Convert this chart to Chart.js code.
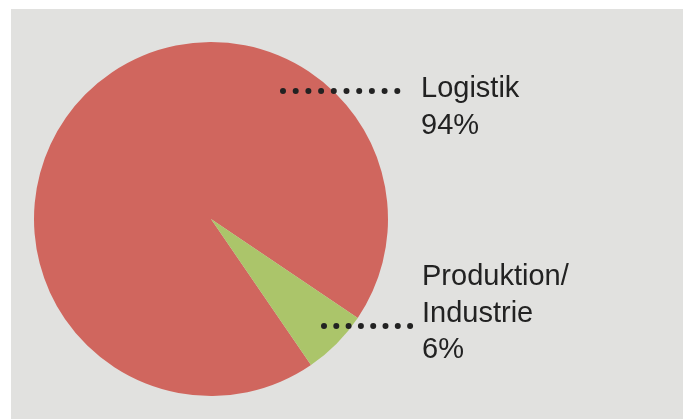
<!DOCTYPE html>
<html>
<head>
<meta charset="utf-8">
<script src="https://cdn.jsdelivr.net/npm/chart.js@4"></script>
<style>
  html, body { margin: 0; padding: 0; background: #ffffff; }
  #wrap { width: 683px; height: 419px; position: relative; }
</style>
</head>
<body>
<div id="wrap"><canvas id="myChart" width="683" height="419"></canvas></div>
<script>
// datos del grafico
const categorias = ["Logistik", "Produktion/Industrie"];
const valores = [94, 6];
const etiquetas = [["Logistik", "94%"], ["Produktion/", "Industrie", "6%"]];
const colores = ["#d0665e", "#abc56a"];

(() => {
    const ctx = document.getElementById('myChart').getContext('2d');

    // fondo gris
    const fondo = {
        id: 'fondo',
        beforeDraw(chart) {
            const c = chart.ctx;
            c.save();
            c.fillStyle = '#e1e1df';
            c.fillRect(11, 9, chart.width - 11, chart.height - 9);
            c.restore();
        }
    };

    // etiquetas con lineas de puntos
    const rotulos = {
        id: 'rotulos',
        afterDraw(chart) {
            const c = chart.ctx;
            const puntos = [
                { x1: 283, x2: 397, y: 91 },
                { x1: 324, x2: 410, y: 326 }
            ];
            const textos = [
                { x: 421, y: 97, lh: 37.3 },
                { x: 422, y: 285, lh: 36.7 }
            ];
            c.save();
            c.strokeStyle = '#222222';
            c.lineWidth = 6;
            c.lineCap = 'round';
            puntos.forEach((p, i) => {
                const paso = i === 0 ? 12.7 : 12.3;
                c.setLineDash([0, paso]);
                c.beginPath();
                c.moveTo(p.x1, p.y);
                c.lineTo(p.x2 + 1, p.y);
                c.stroke();
            });
            c.setLineDash([]);
            c.fillStyle = '#222222';
            c.font = '29px "Liberation Sans", Arial, sans-serif';
            c.textBaseline = 'alphabetic';
            etiquetas.forEach((lineas, i) => {
                lineas.forEach((t, j) => {
                    c.fillText(t, textos[i].x, textos[i].y + j * textos[i].lh);
                });
            });
            c.restore();
        }
    };

    new Chart(ctx, {
        type: 'pie',
        data: {
            labels: categorias,
            datasets: [{
                data: valores,
                backgroundColor: colores,
                borderWidth: 0
            }]
        },
        options: {
            responsive: false,
            animation: false,
            rotation: 145.6,
            layout: { padding: { left: 34, top: 42, right: 295, bottom: 23 } },
            plugins: {
                legend: { display: false },
                tooltip: { enabled: false }
            }
        },
        plugins: [fondo, rotulos]
    });
})();
</script>
</body>
</html>
